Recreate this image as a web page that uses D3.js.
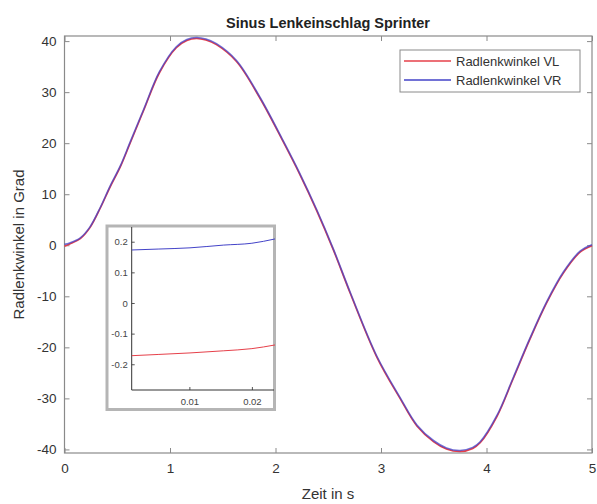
<!DOCTYPE html>
<html>
<head>
<meta charset="utf-8">
<script src="https://cdn.jsdelivr.net/npm/d3@7"></script>
<style>
  html, body { margin: 0; padding: 0; background: #fff; }
  svg { display: block; font-family: "Liberation Sans", Arial, Helvetica, sans-serif; }
</style>
</head>
<body>
<svg id="chart" width="597" height="504"></svg>
<script>
// Steering sine manoeuvre: time in s and wheel steering angles in degrees
const time = [0, 0.05, 0.15, 0.24, 0.34, 0.43, 0.53, 0.62, 0.75, 0.9, 1.06, 1.16, 1.25, 1.34, 1.44, 1.63, 1.85, 2.07, 2.23, 2.39, 2.55, 2.71, 2.96, 3.18, 3.34, 3.5, 3.62, 3.75, 3.87, 3.94, 4.1, 4.25, 4.41, 4.57, 4.73, 4.89, 5.0];
const angleVL = [-0.17, 0.25, 1.3, 3.4, 7.3, 11.3, 15.4, 19.9, 26.4, 33.8, 38.7, 40.1, 40.5, 40.2, 39.3, 36.0, 28.9, 20.4, 13.9, 6.8, -1.0, -9.5, -21.9, -30.0, -35.4, -38.5, -39.9, -40.4, -39.8, -38.7, -33.5, -26.3, -18.5, -11.3, -5.4, -1.3, -0.1];
const angleVR = [0.17, 0.45, 1.45, 3.55, 7.45, 11.5, 15.6, 20.1, 26.6, 34.0, 38.9, 40.3, 40.7, 40.4, 39.5, 36.2, 29.1, 20.6, 14.1, 7.0, -0.8, -9.3, -21.7, -29.8, -35.2, -38.3, -39.7, -40.2, -39.6, -38.5, -33.3, -26.1, -18.3, -11.1, -5.2, -1.1, 0.1];

// Detail of the first milliseconds
const zoomTime = [0.0008, 0.005, 0.0101, 0.0155, 0.02, 0.0237];
const zoomVL = [-0.172, -0.168, -0.163, -0.156, -0.149, -0.137];
const zoomVR = [0.173, 0.176, 0.180, 0.189, 0.195, 0.209];

const xTicks = [0, 1, 2, 3, 4, 5];
const yTicks = [-40, -30, -20, -10, 0, 10, 20, 30, 40];
const zoomXTicks = [0.01, 0.02];
const zoomYTicks = [-0.2, -0.1, 0, 0.1, 0.2];

const seriesNames = ["Radlenkwinkel VL", "Radlenkwinkel VR"];
const seriesColors = ["#e6404a", "#4343c8"];

const svg = d3.select("#chart");
const axisColor = "#8a8a8a";
const textColor = "#333";

// plain hyphen-minus labels
const intLabel = d => String(d);
const decLabel = d => d === 0 ? "0" : d.toFixed(1);

// ---------- main axes ----------
const mLeft = 64.5, mRight = 592, mTop = 36, mBottom = 453;
const x = d3.scaleLinear().domain([0, 5]).range([mLeft, mRight]);
const y = d3.scaleLinear().domain([-40.7, 41]).range([mBottom, mTop]);

const tickLen = 5;
const gMain = svg.append("g");

// frame
gMain.append("rect")
  .attr("x", mLeft).attr("y", mTop)
  .attr("width", mRight - mLeft).attr("height", mBottom - mTop)
  .attr("fill", "none").attr("stroke", axisColor).attr("stroke-width", 1.2);

// ticks pointing inwards on all four sides
const xAxis = d3.axisBottom(x).tickValues(xTicks).tickSize(-tickLen).tickPadding(10).tickFormat(intLabel);
const gx = gMain.append("g").attr("transform", `translate(0,${mBottom})`).call(xAxis);
const xTopAxis = d3.axisTop(x).tickValues(xTicks).tickSize(-tickLen).tickFormat("");
const gxt = gMain.append("g").attr("transform", `translate(0,${mTop})`).call(xTopAxis);

const yAxis = d3.axisLeft(y).tickValues(yTicks).tickSize(-tickLen).tickPadding(8).tickFormat(intLabel);
const gy = gMain.append("g").attr("transform", `translate(${mLeft},0)`).call(yAxis);
const yRightAxis = d3.axisRight(y).tickValues(yTicks).tickSize(-tickLen).tickFormat("");
const gyr = gMain.append("g").attr("transform", `translate(${mRight},0)`).call(yRightAxis);

[gx, gxt, gy, gyr].forEach(g => {
  g.select(".domain").remove();
  g.selectAll(".tick line").attr("stroke", axisColor).attr("stroke-width", 1);
  g.selectAll(".tick text").attr("fill", textColor).style("font-size", "13.5px");
});

// curves
const line = d3.line().x((d, i) => x(time[i])).y(d => y(d)).curve(d3.curveCatmullRom.alpha(0.5));
[angleVL, angleVR].forEach((vals, k) => {
  gMain.append("path")
    .datum(vals)
    .attr("d", line)
    .attr("fill", "none")
    .attr("stroke", seriesColors[k])
    .attr("stroke-width", 1.6)
    .attr("stroke-opacity", k === 1 ? 0.75 : 1);
});

// title and axis labels
svg.append("text")
  .attr("x", 328).attr("y", 28)
  .attr("text-anchor", "middle")
  .attr("fill", "#222")
  .style("font-size", "14.5px").style("font-weight", "bold")
  .text("Sinus Lenkeinschlag Sprinter");

svg.append("text")
  .attr("x", 328).attr("y", 499)
  .attr("text-anchor", "middle")
  .attr("fill", textColor)
  .style("font-size", "15px")
  .text("Zeit in s");

svg.append("text")
  .attr("transform", `translate(24,${(mTop + mBottom) / 2}) rotate(-90)`)
  .attr("text-anchor", "middle")
  .attr("fill", textColor)
  .style("font-size", "15px")
  .text("Radlenkwinkel in Grad");

// legend
const lg = svg.append("g");
lg.append("rect")
  .attr("x", 400).attr("y", 50).attr("width", 180).attr("height", 42)
  .attr("fill", "#fff").attr("stroke", axisColor).attr("stroke-width", 1);
seriesNames.forEach((name, i) => {
  const ly = 61 + i * 19;
  lg.append("line")
    .attr("x1", 404).attr("x2", 451).attr("y1", ly).attr("y2", ly)
    .attr("stroke", seriesColors[i]).attr("stroke-width", 1.4);
  lg.append("text")
    .attr("x", 456).attr("y", ly + 4.5)
    .attr("fill", textColor)
    .style("font-size", "13px")
    .text(name);
});

// ---------- inset ----------
const inset = svg.append("g");
inset.append("rect")
  .attr("x", 107).attr("y", 226).attr("width", 167.5).attr("height", 183.5)
  .attr("fill", "#fff").attr("stroke", "#b5b5b5").attr("stroke-width", 3);

const iLeft = 131.7, iRight = 274, iTop = 227, iBottom = 390;
const xi = d3.scaleLinear().domain([0.00077, 0.0237]).range([iLeft, 275]);
const yi = d3.scaleLinear().domain([-0.284, 0.248]).range([iBottom, iTop]);

const ixAxis = d3.axisBottom(xi).tickValues(zoomXTicks).tickSize(-3).tickPadding(8).tickFormat(d => d.toFixed(2));
const gix = inset.append("g").attr("transform", `translate(0,${iBottom})`).call(ixAxis);
const iyAxis = d3.axisLeft(yi).tickValues(zoomYTicks).tickSize(-3).tickPadding(4).tickFormat(decLabel);
const giy = inset.append("g").attr("transform", `translate(${iLeft},0)`).call(iyAxis);

[gix, giy].forEach(g => {
  g.select(".domain").remove();
  g.selectAll(".tick line").attr("stroke", "#555").attr("stroke-width", 1);
  g.selectAll(".tick text").attr("fill", "#444").style("font-size", "9.5px");
});
inset.append("line")
  .attr("x1", iLeft).attr("x2", iLeft).attr("y1", iTop).attr("y2", iBottom)
  .attr("stroke", "#333").attr("stroke-width", 1);
inset.append("line")
  .attr("x1", iLeft).attr("x2", iRight).attr("y1", iBottom).attr("y2", iBottom)
  .attr("stroke", "#333").attr("stroke-width", 1);

const iline = d3.line().x((d, i) => xi(zoomTime[i])).y(d => yi(d)).curve(d3.curveMonotoneX);
[zoomVL, zoomVR].forEach((vals, k) => {
  inset.append("path")
    .datum(vals)
    .attr("d", iline)
    .attr("fill", "none")
    .attr("stroke", seriesColors[k])
    .attr("stroke-width", 1);
});
</script>
</body>
</html>
